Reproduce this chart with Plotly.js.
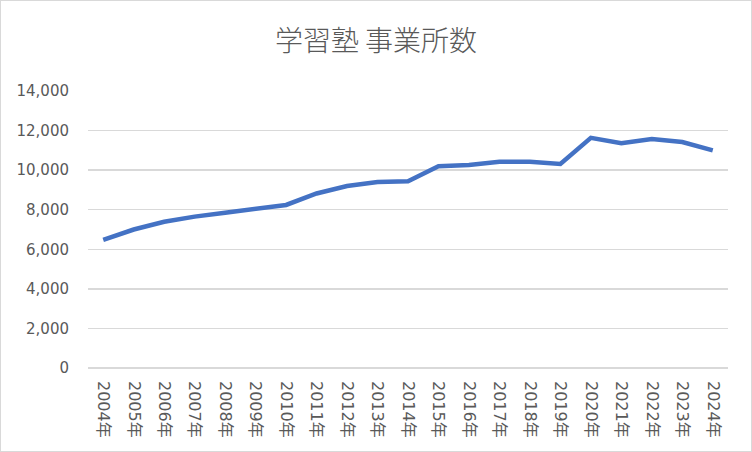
<!DOCTYPE html>
<html><head><meta charset="utf-8">
<script src="https://cdn.plot.ly/plotly-3.0.1.min.js"></script>
<style>
html,body{margin:0;padding:0;background:#fff;}
#wrap{width:750px;height:450px;border:1px solid #d9d9d9;}
#chart{width:750px;height:450px;}
</style></head>
<body><div id="wrap"><div id="chart"></div></div>
<script>
const years = ["2004年","2005年","2006年","2007年","2008年","2009年","2010年","2011年","2012年","2013年","2014年","2015年","2016年","2017年","2018年","2019年","2020年","2021年","2022年","2023年","2024年"];
const offices = [6470,7000,7390,7650,7850,8060,8240,8820,9200,9400,9440,10200,10260,10420,10420,10310,11630,11360,11570,11420,11000];
const chartTitle = "学習塾 事業所数";

const font = "'Noto Sans CJK JP', 'Noto Sans', sans-serif";
const tickFont = "'DejaVu Sans', 'Noto Sans CJK JP', sans-serif";
Plotly.newPlot('chart', [{
  x: years, y: offices, type: 'scatter', mode: 'lines',
  line: {color: '#4472C4', width: 4.5}, hoverinfo: 'skip'
}], {
  width: 750, height: 450,
  margin: {l: 87, r: 23, t: 90, b: 83},
  paper_bgcolor: '#fff', plot_bgcolor: '#fff',
  title: {text: chartTitle, x: 0.5, xanchor: 'center', y: 0.91, yanchor: 'middle',
          font: {family: font, size: 28, color: '#595959', weight: 300}},
  showlegend: false,
  xaxis: {type: 'category', range: [-0.5, 20.5], showgrid: false, zeroline: false,
          showline: false, ticks: '', tickangle: 90, ticklabelstandoff: 12,
          tickfont: {family: tickFont, size: 16, color: '#595959'}},
  yaxis: {range: [0, 14000], dtick: 2000, tickformat: ',d', showgrid: true,
          gridcolor: '#d9d9d9', gridwidth: 1.3, zeroline: true, zerolinecolor: '#d9d9d9', zerolinewidth: 1.3,
          showline: false, ticks: '', ticklabelstandoff: 18,
          tickfont: {family: tickFont, size: 15, color: '#595959'}}
}, {displayModeBar: false, staticPlot: true});
</script></body></html>
